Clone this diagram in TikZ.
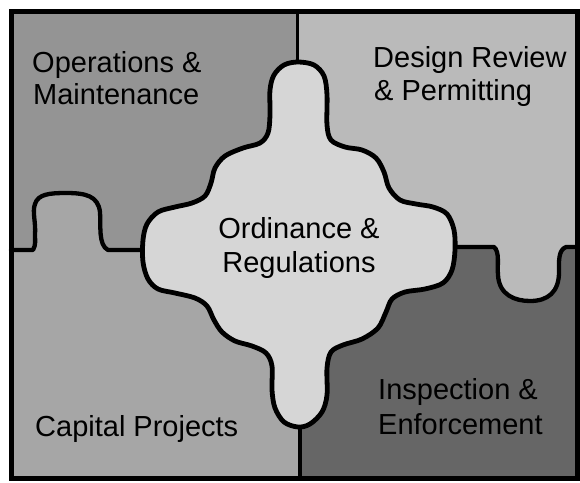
\documentclass[tikz,border=0pt]{standalone}
\usepackage{fontspec}
\setmainfont{Liberation Sans}
\begin{document}
\begin{tikzpicture}[x=1pt,y=-1pt,
  lbl/.style={inner sep=0pt,font=\fontsize{29}{34}\selectfont},
  outl/.style={line width=4.8pt,line join=round,line cap=round},
  divider/.style={line width=3.4pt}]
\definecolor{opsg}{gray}{0.58}
\definecolor{desg}{gray}{0.73}
\definecolor{capg}{gray}{0.65}
\definecolor{insg}{gray}{0.40}
\definecolor{ceng}{gray}{0.84}
\useasboundingbox (0,0) rectangle (580,482);
\fill[white] (0,0) rectangle (580,482);
% quadrants
\fill[opsg] (11,11) rectangle (297.5,250);
\fill[desg] (297.5,11) rectangle (577,247);
\fill[capg] (11,250) rectangle (300,478);
\fill[insg] (300,247) rectangle (577,478);
% left knob (Capital Projects)
\fill[capg] (33,251) -- (35,240) .. controls (36,225) and (32,212) .. (35,204)
  .. controls (38,194) and (50,193) .. (66,193)
  .. controls (86,193) and (98,196) .. (100,212)
  .. controls (101,225) and (98,240) .. (106,251) -- cycle;
\draw[outl,line width=4.3pt] (11,250) -- (33,250) .. controls (36,245) and (35,240) .. (35,235)
  .. controls (36,222) and (32,212) .. (35,204)
  .. controls (38,194) and (50,193) .. (66,193)
  .. controls (86,193) and (98,196) .. (100,212)
  .. controls (101,225) and (98,245) .. (108,250) -- (145,250);
% right knob (Design Review)
\fill[desg] (497,246) .. controls (500,255) and (497,265) .. (498,275)
  .. controls (499,295) and (515,301) .. (530,301)
  .. controls (548,301) and (559,292) .. (559,272)
  .. controls (559,262) and (558,250) .. (566,246) -- cycle;
\draw[outl,line width=4.3pt] (452,247) -- (494,247) .. controls (500,252) and (497,265) .. (498,275)
  .. controls (499,295) and (515,301) .. (530,301)
  .. controls (548,301) and (559,292) .. (559,272)
  .. controls (559,262) and (558,250) .. (566,247) -- (577,247);
% dividers
\draw[divider] (297.5,11) -- (297.5,64);
\draw[divider] (300,425) -- (300,478);
% central piece
\filldraw[fill=ceng,outl] plot[smooth cycle,tension=0.55] coordinates {
(298,62) (314,65) (324,76) (327,95) (327,125) (331,140) (345,147) (362,150)
(376,158) (384,172) (389,188) (400,200) (416,204) (433,207) (447,214) (454,230)
(455,250) (452,270) (443,283) (425,289) (405,292) (392,299) (386,312) (378,328)
(362,339) (343,345) (331,352) (327,368) (327,395) (322,412) (310,424) (298,427)
(284,422) (275,408) (272,390) (272,366) (266,353) (252,346) (235,341) (222,332)
(214,320) (207,306) (195,298) (175,293) (158,289) (148,279) (143,262) (143,240)
(147,224) (158,212) (175,207) (192,203) (205,196) (211,183) (215,168) (225,156)
(243,148) (260,143) (268,133) (270,115) (270,90) (274,75) (284,65)};
% frame
\draw[line width=5pt] (11,11) rectangle (577,478);
% labels
\node[lbl,anchor=base west] (ops1) at (32,72) {Operations \&};
\node[lbl,anchor=base west] (ops2) at (33,104) {Maintenance};
\node[lbl,anchor=base west] (des1) at (373,67) {Design Review};
\node[lbl,anchor=base west] (des2) at (374,100) {\& Permitting};
\node[lbl,anchor=base] (ord1) at (299,238) {Ordinance \&};
\node[lbl,anchor=base] (ord2) at (299,272) {Regulations};
\node[lbl,anchor=base west] (cap1) at (35,436) {Capital Projects};
\node[lbl,anchor=base west] (ins1) at (378,399) {Inspection \&};
\node[lbl,anchor=base west] (ins2) at (378,434) {Enforcement};
\end{tikzpicture}
\end{document}
